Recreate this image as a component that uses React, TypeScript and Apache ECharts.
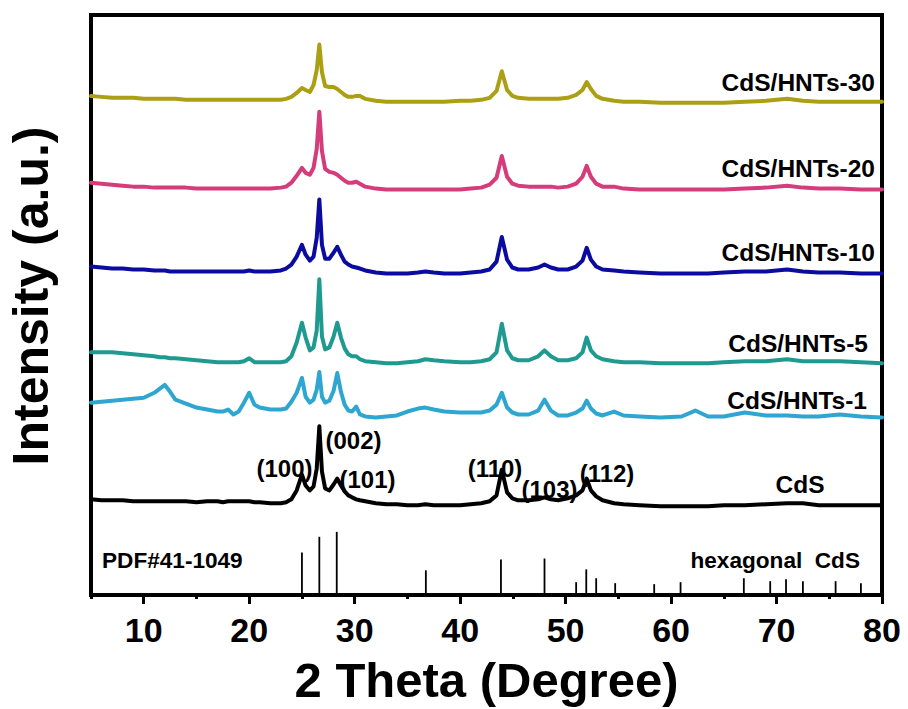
import React, { useEffect, useRef } from "react";
import * as echarts from "echarts";

// 2θ sample positions (degrees)
const twoTheta = [
  5, 6, 7, 8, 9, 10,
  11, 11.5, 12, 12.5, 13,
  14, 15, 16, 17, 17.5,
  18, 18.5, 19, 19.5, 20,
  20.5, 21, 22, 23, 23.5,
  24, 24.5, 25.0, 25.35, 25.75,
  26.1, 26.4, 26.65, 26.9, 27.2,
  27.6, 28.0, 28.35, 28.7, 29.05,
  29.4, 29.75, 30.15, 30.5, 31,
  32, 33, 34, 35, 36,
  36.7, 37.5, 38.5, 40, 41,
  42, 42.8, 43.45, 43.95, 44.45,
  44.95, 45.5, 46.5, 47.4, 48.0,
  48.6, 49.3, 50.2, 51, 51.6,
  52.0, 52.4, 52.9, 53.5, 54.6,
  55.5, 57, 59, 61, 62.3,
  63.5, 65, 67, 69, 71,
  72.5, 74, 76, 78, 80,
];

// stacked (offset) intensities, arbitrary units
const cds = [
  97, 96, 96, 96, 95, 95,
  95, 95, 95, 95, 95,
  95, 94, 95, 95, 94,
  95, 95, 95, 95, 95,
  94, 94, 93, 93, 94,
  97, 106, 122, 111, 106,
  110, 128, 171, 125, 108,
  106, 112, 118, 111, 105,
  101, 99, 97, 96, 95,
  93, 92, 92, 91, 91,
  92, 91, 91, 91, 92,
  93, 95, 101, 127, 104,
  98, 96, 96, 97, 99,
  97, 96, 98, 101, 106,
  118, 106, 100, 96, 93,
  92, 91, 90, 90, 90,
  90, 91, 91, 92, 93,
  93, 91, 91, 91, 91,
];
const hnts1 = [
  195, 196, 197, 198, 199, 200,
  205, 209, 213, 206, 198,
  194, 190, 188, 186, 186,
  188, 183, 186, 195, 205,
  193, 190, 188, 188, 189,
  196, 205, 220, 201, 195,
  198, 208, 226, 201, 195,
  197, 207, 225, 206, 193,
  187, 186, 191, 183, 181,
  180, 181, 182, 186, 189,
  190, 188, 186, 185, 185,
  185, 187, 193, 205, 190,
  185, 183, 183, 187, 198,
  187, 182, 182, 185, 189,
  197, 189, 184, 182, 186,
  182, 181, 180, 181, 187,
  181, 181, 185, 182, 182,
  181, 181, 183, 181, 180,
];
const hnts5 = [
  246, 246, 246, 245, 244, 243,
  242, 241, 241, 240, 240,
  239, 238, 237, 236, 236,
  236, 236, 236, 237, 240,
  236, 236, 236, 236, 237,
  242, 256, 276, 261, 248,
  251, 268, 320, 262, 249,
  251, 262, 276, 261, 250,
  244, 242, 242, 239, 237,
  236, 235, 235, 236, 237,
  239, 238, 237, 236, 236,
  237, 239, 246, 275, 248,
  240, 238, 238, 242, 248,
  242, 238, 238, 240, 246,
  261, 248, 242, 239, 237,
  236, 236, 235, 235, 235,
  235, 236, 237, 237, 239,
  237, 237, 237, 236, 235,
];
const hnts10 = [
  333, 332, 331, 331, 330, 330,
  329, 329, 329, 328, 328,
  328, 328, 328, 328, 328,
  328, 328, 328, 328, 329,
  328, 328, 328, 329, 331,
  335, 343, 355, 345, 339,
  343, 362, 401, 355, 341,
  341, 347, 353, 345, 338,
  335, 333, 332, 331, 329,
  327, 326, 326, 326, 327,
  328, 327, 326, 326, 327,
  328, 330, 338, 363, 340,
  332, 330, 330, 332, 335,
  332, 330, 330, 333, 339,
  352, 340, 333, 330, 329,
  328, 327, 326, 326, 326,
  326, 327, 328, 328, 330,
  328, 327, 327, 326, 326,
];
const hnts20 = [
  418, 417, 416, 415, 414, 414,
  413, 413, 413, 413, 413,
  413, 412, 412, 412, 412,
  412, 412, 412, 412, 412,
  412, 412, 412, 413, 414,
  418, 425, 433, 428, 426,
  433, 452, 490, 450, 432,
  429, 428, 426, 423, 420,
  418, 418, 419, 417, 414,
  412, 411, 411, 411, 411,
  411, 411, 411, 411, 412,
  413, 416, 423, 445, 424,
  417, 415, 414, 414, 414,
  414, 413, 414, 417, 424,
  435, 424, 417, 414, 414,
  412, 411, 411, 411, 411,
  411, 411, 412, 413, 415,
  413, 412, 412, 411, 411,
];
const hnts30 = [
  506, 505, 504, 504, 504, 503,
  503, 503, 503, 503, 503,
  502, 502, 502, 502, 502,
  502, 502, 502, 502, 502,
  502, 502, 502, 502, 503,
  505, 509, 514, 512, 510,
  517, 532, 558, 530, 516,
  515, 515, 513, 510, 507,
  505, 505, 506, 506, 503,
  501, 500, 500, 500, 500,
  500, 500, 500, 501, 501,
  502, 504, 511, 531, 512,
  506, 504, 503, 503, 503,
  503, 503, 504, 507, 512,
  520, 513, 506, 503, 501,
  500, 500, 499, 499, 499,
  499, 499, 500, 501, 503,
  501, 500, 500, 500, 500,
];

// PDF#41-1049 reference sticks
const pdfPositions = [25.0, 26.65, 28.3, 36.75, 43.87, 48.0, 51.0, 51.96, 52.9, 54.7, 58.4, 60.9, 66.9, 69.4, 70.9, 72.5, 75.6, 78.0];
const pdfHeights = [43, 59, 64, 25, 36, 37, 13, 26, 17, 12, 11, 13, 17, 14, 16, 14, 14, 12];

const majorTicks = [10, 20, 30, 40, 50, 60, 70, 80];
const minorTicks = [5, 15, 25, 35, 45, 55, 65, 75];

const seriesNames = ["CdS", "CdS/HNTs-1", "CdS/HNTs-5", "CdS/HNTs-10", "CdS/HNTs-20", "CdS/HNTs-30"];
const seriesColors = ["#000000", "#2EA6D0", "#1F9A90", "#0B0BA0", "#D53C7B", "#ABA014"];

const FONT = '"Liberation Sans", Arial, Helvetica, sans-serif';

export default function App() {
  const ref = useRef<HTMLDivElement>(null);

  useEffect(() => {
    if (!ref.current) return;
    const chart = echarts.init(ref.current, undefined, { renderer: "svg" });
    const allY = [cds, hnts1, hnts5, hnts10, hnts20, hnts30];

    const lineSeries = allY.map((ys, k) => ({
      name: seriesNames[k],
      type: "line",
      xAxisIndex: 0,
      yAxisIndex: 0,
      data: twoTheta.map((x, i) => [x, ys[i]]),
      symbol: "none",
      smooth: false,
      lineStyle: { color: seriesColors[k], width: 4, join: "round", cap: "round" },
      itemStyle: { color: seriesColors[k] },
      z: 3,
    }));

    const txt = (text: string, x: number, y: number, size: number, align: string, rotation = 0) => ({
      type: "text",
      x,
      y,
      rotation,
      z: 10,
      style: {
        text,
        fill: "#000",
        fontSize: size,
        fontWeight: "bold",
        fontFamily: FONT,
        align,
        verticalAlign: "middle",
      },
    });

    chart.setOption({
      animation: false,
      backgroundColor: "#fff",
      grid: {
        left: 91,
        top: 15,
        width: 791,
        height: 588,
        show: true,
        borderColor: "#000",
        borderWidth: 4,
        containLabel: false,
      },
      xAxis: [
        {
          type: "value",
          min: 5,
          max: 80,
          position: "bottom",
          axisLine: { show: true, onZero: false, lineStyle: { color: "#000", width: 4 } },
          axisTick: { show: true, inside: false, length: 9, lineStyle: { color: "#000", width: 3 }, customValues: majorTicks },
          axisLabel: {
            show: true,
            customValues: majorTicks,
            fontSize: 34,
            fontWeight: "bold",
            fontFamily: FONT,
            color: "#000",
            margin: 18,
          },
          splitLine: { show: false },
          name: "2 Theta (Degree)",
          nameLocation: "middle",
          nameGap: 60,
          nameTextStyle: { fontSize: 49, fontWeight: "bold", fontFamily: FONT, color: "#000" },
        },
        {
          type: "value",
          min: 5,
          max: 80,
          position: "bottom",
          axisLine: { show: false },
          axisTick: { show: true, inside: false, length: 4, lineStyle: { color: "#000", width: 3 }, customValues: minorTicks },
          axisLabel: { show: false },
          splitLine: { show: false },
        },
      ],
      yAxis: {
        type: "value",
        min: 0,
        max: 588,
        show: false,
        splitLine: { show: false },
      },
      series: [
        ...lineSeries,
        {
          name: "PDF#41-1049",
          type: "bar",
          xAxisIndex: 0,
          yAxisIndex: 0,
          data: pdfPositions.map((x, i) => [x, pdfHeights[i]]),
          barWidth: 1.8,
          itemStyle: { color: "#000" },
          z: 2,
        },
      ],
      graphic: [
        txt("Intensity (a.u.)", 31, 296, 50, "center", Math.PI / 2),
        txt("CdS/HNTs-30", 875, 82, 24.5, "right"),
        txt("CdS/HNTs-20", 875, 168, 24.5, "right"),
        txt("CdS/HNTs-10", 875, 252, 24.5, "right"),
        txt("CdS/HNTs-5", 868, 343, 24.5, "right"),
        txt("CdS/HNTs-1", 867, 400, 24.5, "right"),
        txt("CdS", 800, 484, 24.5, "center"),
        txt("(100)", 284.5, 468, 24, "center"),
        txt("(002)", 353.5, 440, 24, "center"),
        txt("(101)", 367.5, 479, 24, "center"),
        txt("(110)", 495, 468, 24, "center"),
        txt("(103)", 549.5, 489, 24, "center"),
        txt("(112)", 607, 473, 24, "center"),
        txt("PDF#41-1049", 102, 560, 22.6, "left"),
        txt("hexagonal  CdS", 860, 560, 22.6, "right"),
      ],
    });

    return () => chart.dispose();
  }, []);

  return (
    <div
      ref={ref}
      style={{ position: "fixed", left: 0, top: 0, width: 908, height: 709, background: "#fff" }}
    />
  );
}
